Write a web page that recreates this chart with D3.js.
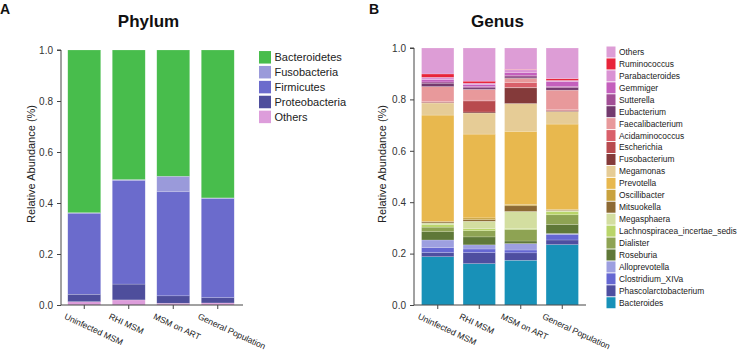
<!DOCTYPE html>
<html>
<head>
<meta charset="utf-8">
<script src="https://cdn.jsdelivr.net/npm/d3@7"></script>
<style>
  html, body { margin: 0; padding: 0; background: #fff; }
  svg { display: block; font-family: Arial, "Liberation Sans", sans-serif; }
  .axis path, .axis line { stroke: #444; }
  .axis text { fill: #333; font-size: 10px; }
</style>
</head>
<body>
<svg id="chart" width="744" height="353"></svg>
<script>
// groups on the x axis
const groups = ["Uninfected MSM", "RHI MSM", "MSM on ART", "General Population"];
const yTicks = [0, 0.2, 0.4, 0.6, 0.8, 1.0];

// Phylum level, bottom of the stack first
const phylumTaxa = ["Others", "Proteobacteria", "Firmicutes", "Fusobacteria", "Bacteroidetes"];
const phylumOthers = [0.013, 0.020, 0.007, 0.008];
const proteobacteria = [0.029, 0.062, 0.029, 0.021];
const firmicutes = [0.318, 0.407, 0.408, 0.389];
const fusobacteria = [0.002, 0.003, 0.061, 0.002];
const bacteroidetes = [0.638, 0.508, 0.495, 0.580];
const phylumValues = [phylumOthers, proteobacteria, firmicutes, fusobacteria, bacteroidetes];
const phylumColors = ["#dd9ddb", "#4e4e9c", "#6b6bcc", "#9a9ada", "#48bd4c"];

// Genus level, bottom of the stack first
const genusTaxa = ["Bacteroides", "Phascolarctobacterium", "Clostridium_XIVa", "Alloprevotella",
  "Roseburia", "Dialister", "Lachnospiracea_incertae_sedis", "Megasphaera", "Mitsuokella",
  "Oscillibacter", "Prevotella", "Megamonas", "Fusobacterium", "Escherichia", "Acidaminococcus",
  "Faecalibacterium", "Eubacterium", "Sutterella", "Gemmiger", "Parabacteroides", "Ruminococcus", "Others"];
const genusValues = [
  [0.188, 0.161, 0.174, 0.235], // Bacteroides
  [0.016, 0.043, 0.029, 0.018], // Phascolarctobacterium
  [0.019, 0.014, 0.011, 0.022], // Clostridium_XIVa
  [0.030, 0.016, 0.025, 0.003], // Alloprevotella
  [0.032, 0.031, 0.010, 0.035], // Roseburia
  [0.018, 0.024, 0.045, 0.038], // Dialister
  [0.009, 0.008, 0.004, 0.012], // Lachnospiracea_incertae_sedis
  [0.007, 0.029, 0.066, 0.004], // Megasphaera
  [0.004, 0.006, 0.022, 0.002], // Mitsuokella
  [0.003, 0.007, 0.005, 0.003], // Oscillibacter
  [0.413, 0.326, 0.285, 0.332], // Prevotella
  [0.047, 0.082, 0.108, 0.049], // Megamonas
  [0.002, 0.004, 0.061, 0.002], // Fusobacterium
  [0.002, 0.043, 0.002, 0.003], // Escherichia
  [0.002, 0.003, 0.018, 0.002], // Acidaminococcus
  [0.058, 0.042, 0.017, 0.076], // Faecalibacterium
  [0.013, 0.006, 0.005, 0.010], // Eubacterium
  [0.005, 0.005, 0.007, 0.004], // Sutterella
  [0.009, 0.007, 0.010, 0.019], // Gemmiger
  [0.009, 0.006, 0.011, 0.005], // Parabacteroides
  [0.013, 0.008, 0.002, 0.007], // Ruminococcus
  [0.101, 0.129, 0.083, 0.119]  // Others
];
const genusColors = ["#1891b8", "#4e4ea0", "#6567d2", "#9d9fe0", "#5f7838", "#8ea353", "#b9d56a",
  "#d3dea0", "#8d6a34", "#c9a23e", "#e8b84e", "#e6cc96", "#843a3a", "#b84a4e", "#d9606a",
  "#e8999b", "#733a6e", "#a24f96", "#c45fbd", "#da93d4", "#e8243a", "#dd9dd6"];

const svg = d3.select("#chart");

// one stacked panel
function drawPanel(opt) {
  const g = svg.append("g");
  const x = d3.scaleBand().domain(groups).range(opt.xRange)
    .paddingInner(opt.padIn).paddingOuter(opt.padOut);
  const y = d3.scaleLinear().domain([0, 1]).range(opt.yRange);

  const rows = groups.map((grp, i) => {
    const r = { group: grp };
    opt.taxa.forEach((t, k) => { r[t] = opt.values[k][i]; });
    return r;
  });
  const stacked = d3.stack().keys(opt.taxa)(rows);
  const color = d3.scaleOrdinal().domain(opt.taxa).range(opt.colors);

  g.selectAll("g.layer").data(stacked).join("g")
    .attr("class", "layer")
    .attr("fill", d => color(d.key))
    .selectAll("rect").data(d => d).join("rect")
    .attr("x", d => x(d.data.group))
    .attr("width", x.bandwidth())
    .attr("y", d => y(d[1]))
    .attr("height", d => Math.max(0, y(d[0]) - y(d[1])))
    .attr("stroke", "#fff").attr("stroke-opacity", 0.35).attr("stroke-width", 0.5);

  // y axis
  g.append("g").attr("class", "axis")
    .attr("transform", `translate(${opt.axisX},0)`)
    .call(d3.axisLeft(y).tickValues(yTicks).tickFormat(d3.format(".1f")).tickSize(4).tickPadding(4))
    .call(a => a.select(".domain").attr("d", `M-4,${opt.yRange[1]}H0V${opt.yRange[0]}`));

  // x axis
  const xa = g.append("g").attr("class", "axis")
    .attr("transform", `translate(0,${opt.yRange[0]})`)
    .call(d3.axisBottom(x).tickSize(4).tickFormat(""));
  xa.select(".domain").attr("d", `M${opt.axisX},0H${opt.axisEnd}`);

  g.selectAll("text.xlab").data(groups).join("text")
    .attr("class", "xlab")
    .attr("transform", d => `translate(${x(d) + x.bandwidth() / 2 - 18},${opt.yRange[0] + 8}) rotate(25)`)
    .attr("dy", "0.71em")
    .attr("font-size", 8.6).attr("fill", "#222")
    .text(d => d);

  // y label
  g.append("text")
    .attr("transform", `translate(${opt.labelX},${opt.labelY}) rotate(-90)`)
    .attr("text-anchor", "middle").attr("font-size", 11).attr("fill", "#222")
    .text("Relative Abundance (%)");

  // title and panel letter
  g.append("text").attr("x", opt.titleX).attr("y", 27).attr("text-anchor", "middle")
    .attr("font-size", 17).attr("font-weight", "bold").attr("fill", "#111").text(opt.title);
  g.append("text").attr("x", opt.letterX).attr("y", 14)
    .attr("font-size", 14).attr("font-weight", "bold").attr("fill", "#111").text(opt.letter);

  // legend, top of the stack first
  const lg = g.append("g").attr("transform", `translate(${opt.legX},${opt.legY})`);
  const items = opt.taxa.slice().reverse();
  const li = lg.selectAll("g").data(items).join("g")
    .attr("transform", (d, i) => `translate(0,${i * opt.legStep})`);
  li.append("rect").attr("width", opt.legW).attr("height", opt.legH)
    .attr("y", -opt.legH / 2).attr("fill", d => color(d));
  li.append("text").attr("x", opt.legW + 3.5).attr("dy", "0.35em")
    .attr("font-size", opt.legFont).attr("fill", "#222").text(d => d);
}

drawPanel({
  taxa: phylumTaxa, values: phylumValues, colors: phylumColors,
  xRange: [62, 240], padIn: 0.26, padOut: 0.13, yRange: [305, 50],
  axisX: 61, axisEnd: 243, labelX: 35, labelY: 164,
  title: "Phylum", titleX: 148.5, letter: "A", letterX: 0,
  legX: 259, legY: 57.3, legStep: 14.9, legW: 12, legH: 12.5, legFont: 11
});

drawPanel({
  taxa: genusTaxa, values: genusValues, colors: genusColors,
  xRange: [417, 583], padIn: 0.22, padOut: 0.11, yRange: [305, 48],
  axisX: 414, axisEnd: 586, labelX: 386, labelY: 164,
  title: "Genus", titleX: 497.5, letter: "B", letterX: 369,
  legX: 606.5, legY: 52, legStep: 11.94, legW: 9, legH: 11, legFont: 8.4
});
</script>
</body>
</html>
